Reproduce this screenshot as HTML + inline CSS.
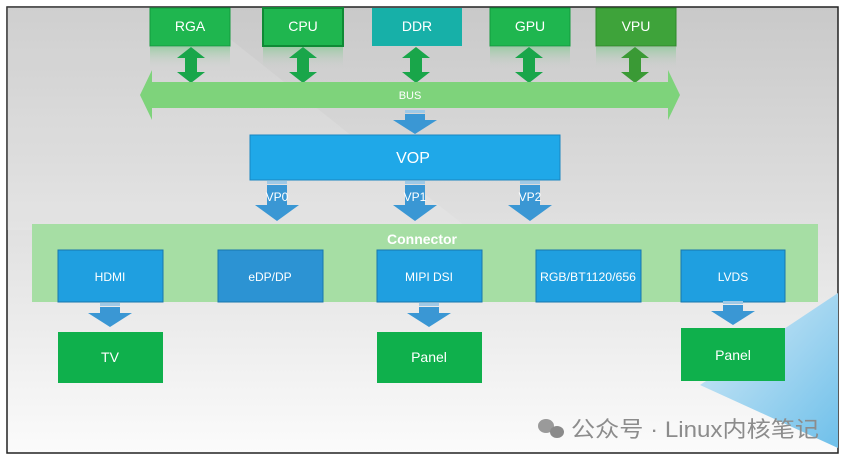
<!DOCTYPE html>
<html><head><meta charset="utf-8"><style>
html,body{margin:0;padding:0;background:#fff;}
svg{display:block;font-family:"Liberation Sans","Noto Sans CJK SC",sans-serif;}
</style></head><body>
<svg width="847" height="462" viewBox="0 0 847 462" xmlns="http://www.w3.org/2000/svg">
<defs>
<linearGradient id="bg" x1="0" y1="0" x2="0" y2="1">
<stop offset="0" stop-color="#c9c9c9"/><stop offset="0.45" stop-color="#dedede"/><stop offset="1" stop-color="#fbfbfb"/>
</linearGradient>
<linearGradient id="tri" x1="0" y1="0" x2="1" y2="1">
<stop offset="0" stop-color="#d8ecf7"/><stop offset="1" stop-color="#6fc0ea"/>
</linearGradient>
<linearGradient id="fade" x1="0" y1="0" x2="0" y2="1">
<stop offset="0" stop-color="#7ec98c" stop-opacity="0.6"/><stop offset="1" stop-color="#cfcfcf" stop-opacity="0"/>
</linearGradient>
<g id="dn"><rect x="-10" y="0" width="20" height="3" fill="#9fc9e6"/><polygon points="-10,4 10,4 10,10 22,10 0,24 -22,10 -10,10" fill="#3a97d4"/></g>
</defs>
<rect x="0" y="0" width="847" height="462" fill="#fff"/>
<rect x="7" y="7" width="831" height="446" fill="url(#bg)" stroke="#222" stroke-width="1.5"/>
<polygon points="7,7 190,7 470,230 7,230" fill="#ffffff" opacity="0.12"/>
<polygon points="838,293 838,448 700,385" fill="url(#tri)"/>
<rect x="150" y="8" width="80" height="38" fill="#1fb64f" stroke="#13993d"/>
<rect x="263" y="8" width="80" height="38" fill="#1fb64f" stroke="#0f8a35" stroke-width="2"/>
<rect x="372" y="8" width="90" height="38" fill="#17b0a8"/>
<rect x="490" y="8" width="80" height="38" fill="#1fb64f" stroke="#13993d"/>
<rect x="596" y="8" width="80" height="38" fill="#3ea33a" stroke="#2d8a2b"/>
<g fill="url(#fade)"><rect x="150" y="47" width="80" height="22"/><rect x="263" y="47" width="80" height="22"/><rect x="490" y="47" width="80" height="22"/><rect x="596" y="47" width="80" height="22"/></g>
<g fill="#fff" font-size="14" text-anchor="middle">
<text x="190" y="31">RGA</text><text x="303" y="31">CPU</text><text x="417" y="31">DDR</text><text x="530" y="31">GPU</text><text x="636" y="31">VPU</text>
</g>
<g fill="#19a64a">
<polygon id="d1" transform="translate(191,65)" points="0,-18 14,-7 6,-7 6,7 14,7 0,18 -14,7 -6,7 -6,-7 -14,-7"/>
<polygon transform="translate(303,65)" points="0,-18 14,-7 6,-7 6,7 14,7 0,18 -14,7 -6,7 -6,-7 -14,-7"/>
<polygon transform="translate(416,65)" points="0,-18 14,-7 6,-7 6,7 14,7 0,18 -14,7 -6,7 -6,-7 -14,-7"/>
<polygon transform="translate(529,65)" points="0,-18 14,-7 6,-7 6,7 14,7 0,18 -14,7 -6,7 -6,-7 -14,-7"/>
<polygon transform="translate(635,65)" fill="#3a9a35" points="0,-18 14,-7 6,-7 6,7 14,7 0,18 -14,7 -6,7 -6,-7 -14,-7"/>
</g>
<polygon points="140,95 152,70 152,82 668,82 668,70 680,95 668,120 668,108 152,108 152,120" fill="#7ed37b"/>
<text x="410" y="99" fill="#fff" font-size="11" text-anchor="middle">BUS</text>
<use href="#dn" x="415" y="110"/>
<rect x="250" y="135" width="310" height="45" fill="#1fa8e8" stroke="#1a86c0"/>
<text x="413" y="163" fill="#fff" font-size="16" text-anchor="middle">VOP</text>
<g transform="translate(277,181)"><rect x="-10" y="0" width="20" height="3" fill="#9fc9e6"/><polygon points="-10,4 10,4 10,24 22,24 0,40 -22,24 -10,24" fill="#3a97d4"/></g>
<g transform="translate(415,181)"><rect x="-10" y="0" width="20" height="3" fill="#9fc9e6"/><polygon points="-10,4 10,4 10,24 22,24 0,40 -22,24 -10,24" fill="#3a97d4"/></g>
<g transform="translate(530,181)"><rect x="-10" y="0" width="20" height="3" fill="#9fc9e6"/><polygon points="-10,4 10,4 10,24 22,24 0,40 -22,24 -10,24" fill="#3a97d4"/></g>
<g fill="#fff" font-size="12" text-anchor="middle"><text x="277" y="201">VP0</text><text x="415" y="201">VP1</text><text x="530" y="201">VP2</text></g>
<rect x="32" y="224" width="786" height="78" fill="#a6dea4"/>
<text x="422" y="244" fill="#fff" font-size="14" font-weight="bold" text-anchor="middle">Connector</text>
<g fill="#1f9fe0" stroke="#1877ad">
<rect x="58" y="250" width="105" height="52"/><rect x="218" y="250" width="105" height="52" fill="#2c93d3"/><rect x="377" y="250" width="105" height="52"/><rect x="536" y="250" width="105" height="52"/><rect x="681" y="250" width="104" height="52"/>
</g>
<g fill="#fff" font-size="12" text-anchor="middle">
<text x="110" y="281">HDMI</text><text x="270" y="281">eDP/DP</text><text x="429" y="281">MIPI DSI</text><text x="588" y="281" textLength="96" lengthAdjust="spacingAndGlyphs">RGB/BT1120/656</text><text x="733" y="281">LVDS</text>
</g>
<use href="#dn" x="110" y="303"/><use href="#dn" x="429" y="303"/><use href="#dn" x="733" y="301"/>
<g fill="#0fb04c">
<rect x="58" y="332" width="105" height="51"/><rect x="377" y="332" width="105" height="51"/><rect x="681" y="328" width="104" height="53"/>
</g>
<g fill="#fff" font-size="14" text-anchor="middle">
<text x="110" y="362">TV</text><text x="429" y="362">Panel</text><text x="733" y="360">Panel</text>
</g>
<g fill="#9a9a9a"><ellipse cx="546" cy="426" rx="8" ry="7"/><ellipse cx="557" cy="432" rx="7" ry="6" fill="#8a8a8a"/></g>
<text x="571" y="437" fill="#8c8c8c" font-size="22" textLength="248" lengthAdjust="spacingAndGlyphs">公众号 · Linux内核笔记</text>
</svg>
</body></html>
